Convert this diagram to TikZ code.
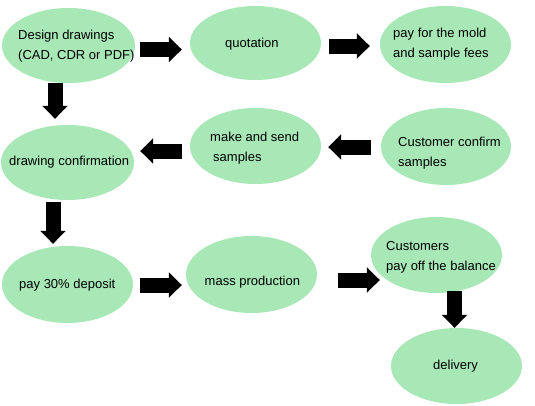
\documentclass[tikz,border=0pt]{standalone}
\usepackage{fontspec}
\setmainfont{Liberation Sans}
\usetikzlibrary{shapes.geometric,arrows.meta,calc}
\definecolor{ellgreen}{RGB}{168,232,182}
\begin{document}
\begin{tikzpicture}[x=1pt,y=-1pt,
  ell/.style={ellipse,fill=ellgreen,draw=none,inner sep=0pt},
  txt/.style={inner sep=0pt,align=left,font=\fontsize{13}{20}\selectfont},
  barrow/.style={line width=15pt,draw=black,-{Triangle[length=13pt,width=25pt]}}
]
\useasboundingbox (0,0) rectangle (535,405);
% ellipses
\node[ell,minimum width=133pt,minimum height=75pt] (e1) at (68.5,45.5) {};
\node[ell,minimum width=131pt,minimum height=74pt] (e2) at (255.5,43) {};
\node[ell,minimum width=131pt,minimum height=77pt] (e3) at (445.5,44.5) {};
\node[ell,minimum width=131pt,minimum height=76pt] (e4) at (255.5,146) {};
\node[ell,minimum width=130pt,minimum height=77pt] (e5) at (446,146.5) {};
\node[ell,minimum width=133pt,minimum height=75pt] (e6) at (67.5,162.5) {};
\node[ell,minimum width=131pt,minimum height=77pt] (e7) at (67.5,284.5) {};
\node[ell,minimum width=131pt,minimum height=77pt] (e8) at (251.5,274.5) {};
\node[ell,minimum width=131pt,minimum height=76pt] (e9) at (436.5,255) {};
\node[ell,minimum width=131pt,minimum height=76pt] (e10) at (456.5,366) {};
% texts
\node[txt,anchor=west] (t1) at (18,46.6) {Design drawings\\(CAD, CDR or PDF)};
\node[txt,anchor=base west] (t2) at (225,47) {quotation};
\node[txt,anchor=west] (t3) at (393,43.7) {pay for the mold\\and sample fees};
\node[txt,anchor=west] (t4) at (210,148) {make and send\\\hspace{3pt}samples};
\node[txt,anchor=west] (t5) at (398,153.6) {Customer confirm\\samples};
\node[txt,anchor=base west] (t6) at (9,165) {drawing confirmation};
\node[txt,anchor=base west] (t7) at (19,288.3) {pay 30\% deposit};
\node[txt,anchor=base west] (t8) at (204.5,285) {mass production};
\node[txt,anchor=west] (t9) at (386,257.5) {Customers\\pay off the balance};
\node[txt,anchor=base west] (t10) at (433,369.3) {delivery};
% arrows
\draw[barrow] ($(e1.east)+(5,4)$) -- ($(e2.west)+(-8,6.5)$);
\draw[barrow] ($(e2.east)+(8,3)$) -- ($(e3.west)+(-10,1.5)$);
\draw[barrow] ($(e5.west)+(-10,0.5)$) -- ($(e4.east)+(7,1)$);
\draw[barrow] ($(e4.west)+(-8,5)$) -- ($(e6.east)+(6,-11.5)$);
\draw[barrow] ($(e1.south)+(-13.5,0)$) -- ($(e6.north)+(-12.5,-6)$);
\draw[barrow] ($(e6.south)+(-14.5,1.5)$) -- ($(e7.north)+(-14.5,-2)$);
\draw[barrow] ($(e7.east)+(7,0.5)$) -- ($(e8.west)+(-4,10.5)$);
\draw[barrow] ($(e8.east)+(21,5.5)$) -- ($(e9.west)+(9,25)$);
\draw[barrow] ($(e9.south)+(18,-2)$) -- ($(e10.north)+(-2,0)$);
\end{tikzpicture}
\end{document}
